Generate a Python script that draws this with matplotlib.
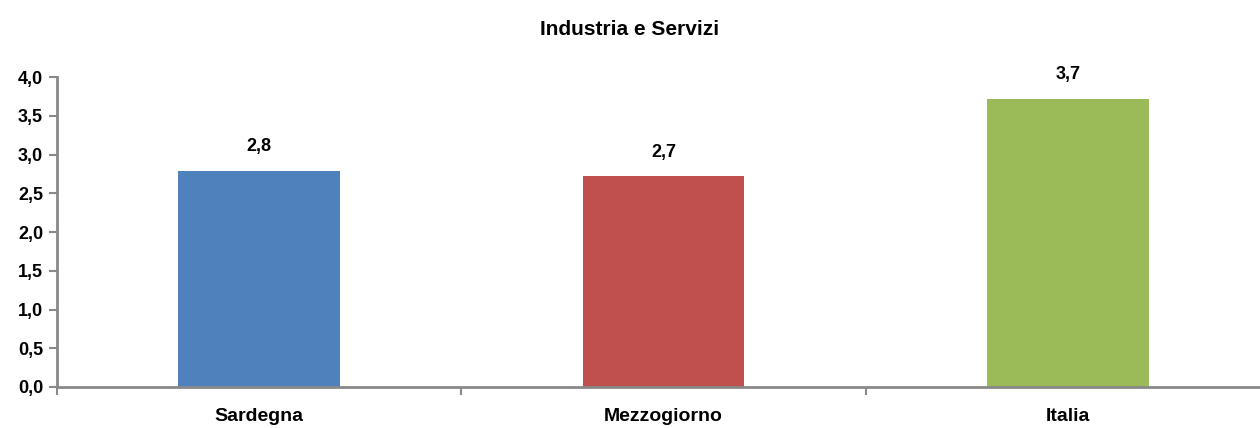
import matplotlib.pyplot as plt
import numpy as np

categorie = ['Sardegna', 'Mezzogiorno', 'Italia']
valori = [2.79, 2.72, 3.72]
colori = ['#4f81bd', '#c0504d', '#9bbb59']
yticks = [0.0, 0.5, 1.0, 1.5, 2.0, 2.5, 3.0, 3.5, 4.0]

plt.rcParams['font.family'] = ['Liberation Sans Narrow', 'Liberation Sans', 'DejaVu Sans']
plt.rcParams['font.weight'] = 'bold'

fig = plt.figure(figsize=(12.6, 4.28), dpi=100)
# l'asse esce leggermente dal bordo destro come nell'originale
ax = fig.add_axes([0.0452, 0.0958, (1270 - 57) / 1260, 0.7242])

x = np.arange(len(categorie))
ax.bar(x, valori, width=0.4, color=colori, zorder=2)

for xi, v in zip(x, valori):
    ax.text(xi, v + 0.2, ('%.1f' % v).replace('.', ','), ha='center', va='bottom',
            fontsize=13, fontweight='bold')

ax.set_xlim(-0.5, len(categorie) - 0.5)
ax.set_ylim(0, 4.0)
ax.set_yticks(yticks)
ax.set_yticklabels([('%.1f' % t).replace('.', ',') for t in yticks], fontsize=13, fontweight='bold')
ax.set_xticks(x)
ax.set_xticklabels(categorie, fontsize=14, fontweight='bold')
ax.tick_params(axis='x', length=0, pad=15)
ax.set_xticks(np.arange(-0.5, len(categorie)), minor=True)
ax.tick_params(axis='x', which='minor', length=6, width=1.5, color='#898989')
ax.tick_params(axis='y', length=6, width=1.5, color='#898989', pad=4)

for s in ['top', 'right']:
    ax.spines[s].set_visible(False)
for s in ['left', 'bottom']:
    ax.spines[s].set_color('#898989')
    ax.spines[s].set_linewidth(2)

fig.text(0.5, 0.93, 'Industria e Servizi', ha='center', va='center', fontsize=15, fontweight='bold')

fig.savefig('out.png', dpi=100)
